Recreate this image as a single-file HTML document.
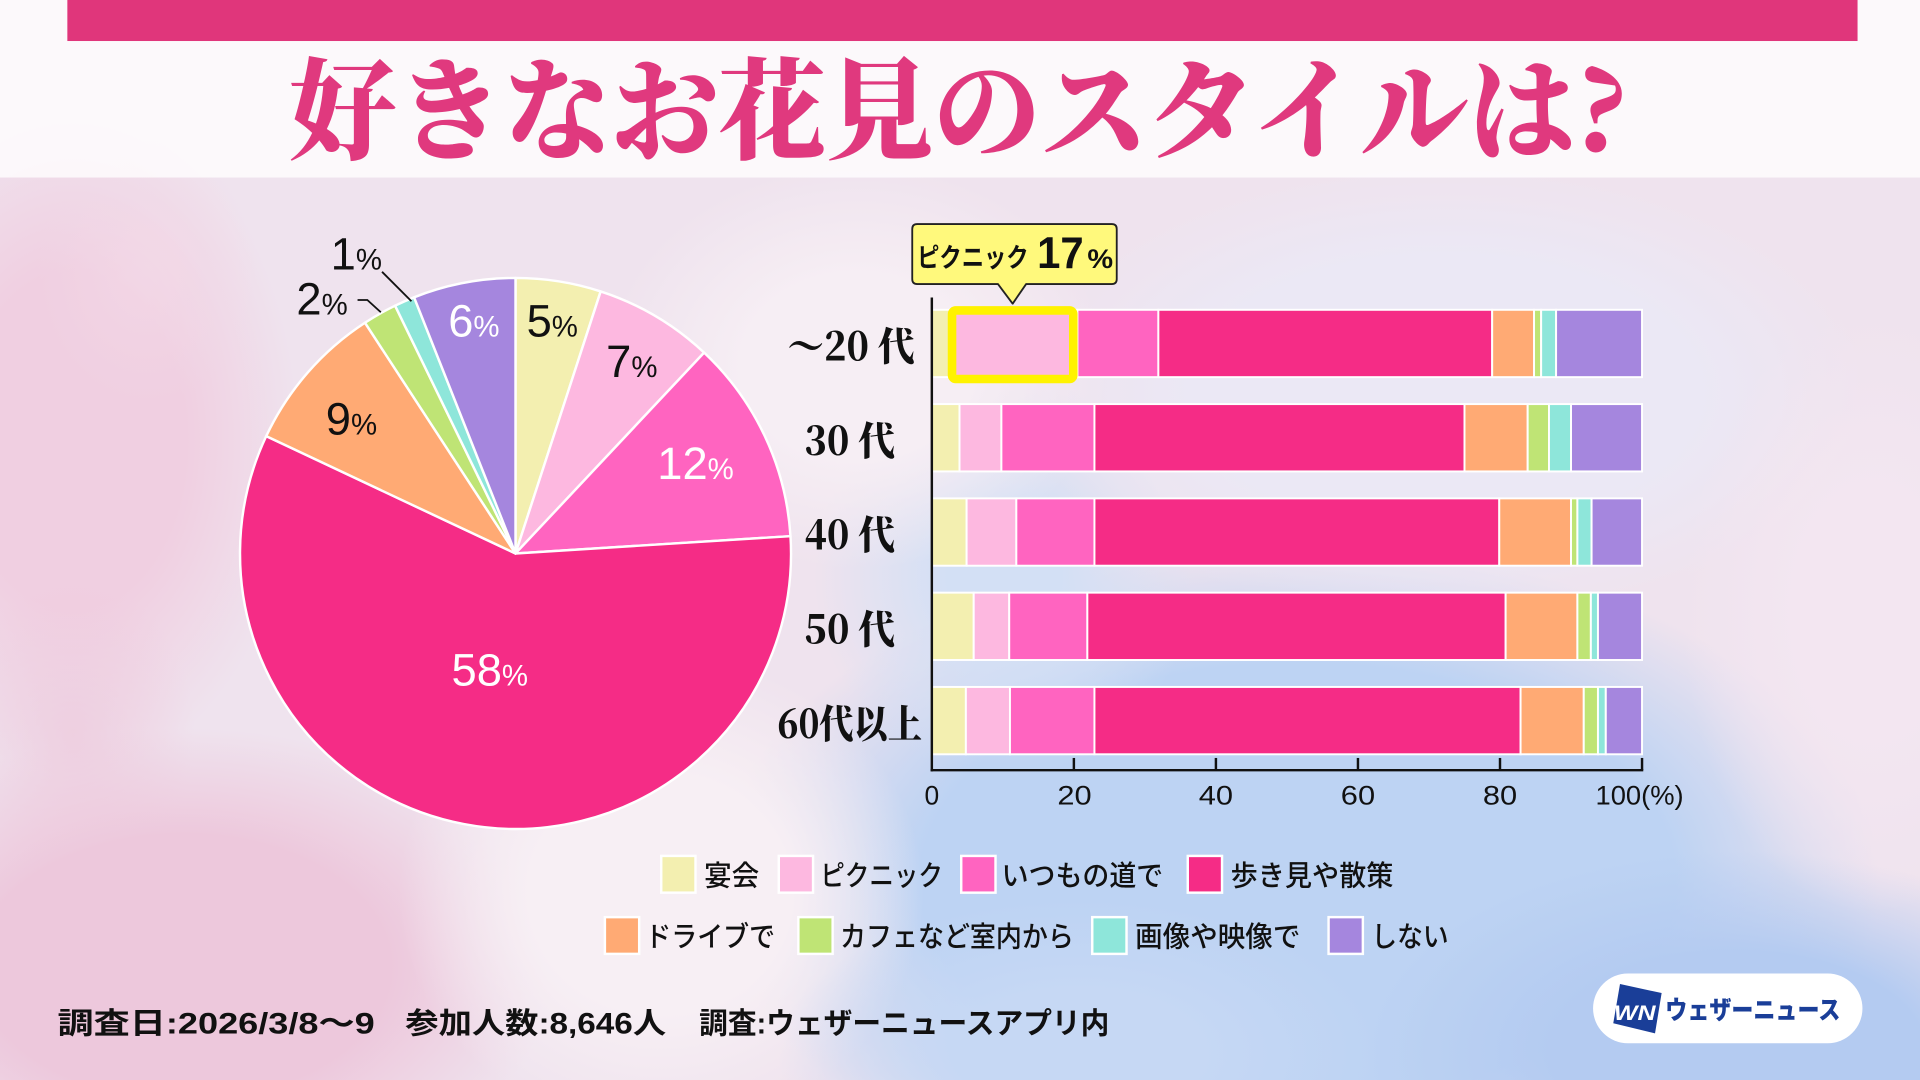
<!DOCTYPE html>
<html>
<head>
<meta charset="utf-8">
<style>
html,body{margin:0;padding:0;width:1920px;height:1080px;overflow:hidden;background:#efe3ee;}
#wrap{position:absolute;left:0;top:0;width:1920px;height:1080px;overflow:hidden;
background:
radial-gradient(ellipse 122px 159px at 73px 735px, rgba(238,201,220,.7) 0%, rgba(238,201,220,0) 100%),
radial-gradient(ellipse 110px 135px at 147px 269px, rgba(243,217,231,.7) 0%, rgba(243,217,231,0) 100%),
radial-gradient(ellipse 300px 153px at 1078px 1053px, #c6d8f4 40%, rgba(198,216,244,0) 100%),
radial-gradient(ellipse 190px 300px at 1873px 612px, #f3e6f1 40%, rgba(243,230,241,0) 100%),
radial-gradient(ellipse 251px 202px at 857px 367px, #f6eef4 45%, rgba(246,238,244,0) 100%),
radial-gradient(ellipse 263px 239px at 661px 894px, #f7eff4 50%, rgba(247,239,244,0) 100%),
radial-gradient(ellipse 373px 239px at 184px 967px, #edc8dc 55%, rgba(237,200,220,0) 100%),
radial-gradient(ellipse 226px 337px at 73px 441px, #f0cfe1 50%, rgba(240,207,225,0) 100%),
radial-gradient(ellipse 422px 226px at 1445px 392px, #ebe8f5 60%, rgba(235,232,245,0) 100%),
radial-gradient(ellipse 190px 202px at 1004px 576px, #d3e0f5 30%, rgba(211,224,245,0) 100%),
radial-gradient(ellipse 373px 202px at 1739px 1053px, #b4cbf1 50%, rgba(180,203,241,0) 100%),
radial-gradient(ellipse 582px 337px at 1298px 882px, #bdd3f3 65%, rgba(189,211,243,0) 100%),
#efe3ee;}
svg{display:block;overflow:hidden;}
</style>
</head>
<body>
<div id="wrap">
<svg width="1920" height="1080" viewBox="0 0 1568 882" xmlns="http://www.w3.org/2000/svg">

  <!-- Title band -->
  <rect x="0" y="0" width="1568" height="145" fill="#ffffff" opacity="0.78"/>
  <rect x="55" y="0" width="1462" height="33.5" fill="#e0367b"/>
  <text x="236" y="123" font-family="'Noto Serif CJK SC','Noto Serif CJK JP',serif" font-weight="900" font-size="90" fill="#e0397e" textLength="1094" lengthAdjust="spacingAndGlyphs">好きなお花見のスタイルは?</text>

  <!-- Pie -->
  <g stroke="#ffffff" stroke-width="2" stroke-linejoin="round">
    <path d="M421 452 L421 227 A225 225 0 0 1 490.53 238.01 Z" fill="#f3efb0"/>
    <path d="M421 452 L490.53 238.01 A225 225 0 0 1 575.02 287.98 Z" fill="#fdb8e0"/>
    <path d="M421 452 L575.02 287.98 A225 225 0 0 1 645.56 437.87 Z" fill="#ff64c0"/>
    <path d="M421 452 L645.56 437.87 A225 225 0 1 1 217.41 356.20 Z" fill="#f52c86"/>
    <path d="M421 452 L217.41 356.20 A225 225 0 0 1 298.05 263.56 Z" fill="#ffaa74"/>
    <path d="M421 452 L298.05 263.56 A225 225 0 0 1 322.65 249.63 Z" fill="#bfe475"/>
    <path d="M421 452 L322.65 249.63 A225 225 0 0 1 338.17 242.80 Z" fill="#8ee6da"/>
    <path d="M421 452 L338.17 242.80 A225 225 0 0 1 421 227 Z" fill="#a586de"/>
  </g>

  <!-- Pie labels -->
  <g font-family="'Liberation Sans',sans-serif" text-anchor="middle">
    <text x="451" y="275" font-size="37" fill="#111">5<tspan font-size="24">%</tspan></text>
    <text x="387" y="275" font-size="37" fill="#fff">6<tspan font-size="24">%</tspan></text>
    <text x="516" y="308" font-size="37" fill="#111">7<tspan font-size="24">%</tspan></text>
    <text x="568" y="391" font-size="37" fill="#fff">12<tspan font-size="24">%</tspan></text>
    <text x="400" y="560" font-size="37" fill="#fff">58<tspan font-size="24">%</tspan></text>
    <text x="287" y="355" font-size="37" fill="#111">9<tspan font-size="24">%</tspan></text>
    <text x="263" y="257" font-size="37" fill="#111">2<tspan font-size="24">%</tspan></text>
    <text x="291" y="220" font-size="37" fill="#111">1<tspan font-size="24">%</tspan></text>
  </g>
  <polyline points="312,222 336,246" fill="none" stroke="#111" stroke-width="1.5"/>
  <polyline points="292,245 300,245 311,255" fill="none" stroke="#111" stroke-width="1.5"/>

  <!-- Bars -->
  <g stroke="#ffffff" stroke-width="1.6">
    <!-- row 1 -->
    <rect x="761" y="253" width="20.3" height="55" fill="#f3efb0"/>
    <rect x="781.3" y="253" width="98.6" height="55" fill="#fdb8e0"/>
    <rect x="879.9" y="253" width="66.1" height="55" fill="#ff64c0"/>
    <rect x="946" y="253" width="272.6" height="55" fill="#f52c86"/>
    <rect x="1218.6" y="253" width="34.2" height="55" fill="#ffaa74"/>
    <rect x="1252.8" y="253" width="5.8" height="55" fill="#bfe475"/>
    <rect x="1258.6" y="253" width="12.2" height="55" fill="#8ee6da"/>
    <rect x="1270.8" y="253" width="70.2" height="55" fill="#a586de"/>
    <!-- row 2 -->
    <rect x="761" y="330" width="22.6" height="55" fill="#f3efb0"/>
    <rect x="783.6" y="330" width="34.2" height="55" fill="#fdb8e0"/>
    <rect x="817.8" y="330" width="76" height="55" fill="#ff64c0"/>
    <rect x="893.8" y="330" width="302.2" height="55" fill="#f52c86"/>
    <rect x="1196" y="330" width="51.6" height="55" fill="#ffaa74"/>
    <rect x="1247.6" y="330" width="17.4" height="55" fill="#bfe475"/>
    <rect x="1265" y="330" width="18" height="55" fill="#8ee6da"/>
    <rect x="1283" y="330" width="58" height="55" fill="#a586de"/>
    <!-- row 3 -->
    <rect x="761" y="407" width="28.4" height="55" fill="#f3efb0"/>
    <rect x="789.4" y="407" width="40.6" height="55" fill="#fdb8e0"/>
    <rect x="830" y="407" width="63.8" height="55" fill="#ff64c0"/>
    <rect x="893.8" y="407" width="330.6" height="55" fill="#f52c86"/>
    <rect x="1224.4" y="407" width="58.6" height="55" fill="#ffaa74"/>
    <rect x="1283" y="407" width="5.2" height="55" fill="#bfe475"/>
    <rect x="1288.2" y="407" width="11.6" height="55" fill="#8ee6da"/>
    <rect x="1299.8" y="407" width="41.2" height="55" fill="#a586de"/>
    <!-- row 4 -->
    <rect x="761" y="484" width="34.2" height="55" fill="#f3efb0"/>
    <rect x="795.2" y="484" width="29" height="55" fill="#fdb8e0"/>
    <rect x="824.2" y="484" width="63.8" height="55" fill="#ff64c0"/>
    <rect x="888" y="484" width="341.6" height="55" fill="#f52c86"/>
    <rect x="1229.6" y="484" width="58.6" height="55" fill="#ffaa74"/>
    <rect x="1288.2" y="484" width="11" height="55" fill="#bfe475"/>
    <rect x="1299.2" y="484" width="5.8" height="55" fill="#8ee6da"/>
    <rect x="1305" y="484" width="36" height="55" fill="#a586de"/>
    <!-- row 5 -->
    <rect x="761" y="561" width="27.8" height="55" fill="#f3efb0"/>
    <rect x="788.8" y="561" width="36" height="55" fill="#fdb8e0"/>
    <rect x="824.8" y="561" width="69" height="55" fill="#ff64c0"/>
    <rect x="893.8" y="561" width="348" height="55" fill="#f52c86"/>
    <rect x="1241.8" y="561" width="51.6" height="55" fill="#ffaa74"/>
    <rect x="1293.4" y="561" width="11.6" height="55" fill="#bfe475"/>
    <rect x="1305" y="561" width="6.4" height="55" fill="#8ee6da"/>
    <rect x="1311.4" y="561" width="29.6" height="55" fill="#a586de"/>
  </g>

  <!-- Highlight -->
  <rect x="777.5" y="253.5" width="99" height="56" rx="3" fill="#fdb8e0" stroke="#fff200" stroke-width="7"/>

  <!-- Axes -->
  <g stroke="#111" stroke-width="2" fill="none">
    <line x1="761" y1="243" x2="761" y2="630"/>
    <line x1="760" y1="629" x2="1342" y2="629"/>
    <line x1="877" y1="619" x2="877" y2="629"/>
    <line x1="993" y1="619" x2="993" y2="629"/>
    <line x1="1109" y1="619" x2="1109" y2="629"/>
    <line x1="1225" y1="619" x2="1225" y2="629"/>
    <line x1="1341" y1="619" x2="1341" y2="629"/>
  </g>
  <g font-family="'Liberation Sans',sans-serif" font-size="22" fill="#111">
    <text x="755" y="657" textLength="12" lengthAdjust="spacingAndGlyphs">0</text>
    <text x="863.5" y="657" textLength="28" lengthAdjust="spacingAndGlyphs">20</text>
    <text x="979" y="657" textLength="28" lengthAdjust="spacingAndGlyphs">40</text>
    <text x="1095" y="657" textLength="28" lengthAdjust="spacingAndGlyphs">60</text>
    <text x="1211" y="657" textLength="28" lengthAdjust="spacingAndGlyphs">80</text>
    <text x="1303" y="657" textLength="72" lengthAdjust="spacingAndGlyphs">100(%)</text>
  </g>

  <!-- Row labels -->
  <g font-family="'Noto Serif CJK SC','Noto Serif CJK JP',serif" font-weight="900" font-size="32" fill="#111">
    <text x="643" y="294.5" textLength="104" lengthAdjust="spacingAndGlyphs">〜20 代</text>
    <text x="657" y="371.5" textLength="74" lengthAdjust="spacingAndGlyphs">30 代</text>
    <text x="657" y="448.5" textLength="74" lengthAdjust="spacingAndGlyphs">40 代</text>
    <text x="657" y="525.5" textLength="74" lengthAdjust="spacingAndGlyphs">50 代</text>
    <text x="635" y="602.5" textLength="118" lengthAdjust="spacingAndGlyphs">60代以上</text>
  </g>

  <!-- Callout -->
  <path d="M749 183 H908 Q912 183 912 187 V228 Q912 232 908 232 H838 L827 248 L815 232 H749 Q745 232 745 228 V187 Q745 183 749 183 Z" fill="#fff97c" stroke="#222" stroke-width="1.5" stroke-linejoin="round"/>
  <g font-family="'Liberation Sans','Noto Sans CJK JP',sans-serif" font-weight="700" fill="#111">
    <text x="749" y="218" font-size="22" textLength="91" lengthAdjust="spacingAndGlyphs">ピクニック</text>
    <text x="847" y="219" font-size="36" textLength="38" lengthAdjust="spacingAndGlyphs">17</text>
    <text x="888" y="219" font-size="22" textLength="21" lengthAdjust="spacingAndGlyphs">%</text>
  </g>

  <!-- Legend -->
  <g stroke="#ffffff" stroke-width="2">
    <rect x="540" y="699" width="28" height="30" fill="#f3efb0"/>
    <rect x="636" y="699" width="28" height="30" fill="#fdb8e0"/>
    <rect x="785" y="699" width="28" height="30" fill="#ff64c0"/>
    <rect x="970" y="699" width="28" height="30" fill="#f52c86"/>
    <rect x="494" y="749" width="28" height="30" fill="#ffaa74"/>
    <rect x="652" y="749" width="28" height="30" fill="#bfe475"/>
    <rect x="892" y="749" width="28" height="30" fill="#8ee6da"/>
    <rect x="1085" y="749" width="28" height="30" fill="#a586de"/>
  </g>
  <g font-family="'Liberation Sans','Noto Sans CJK JP',sans-serif" font-weight="500" font-size="23" fill="#111">
    <text x="575" y="723" textLength="45" lengthAdjust="spacingAndGlyphs">宴会</text>
    <text x="670" y="723" textLength="100" lengthAdjust="spacingAndGlyphs">ピクニック</text>
    <text x="818" y="723" textLength="132" lengthAdjust="spacingAndGlyphs">いつもの道で</text>
    <text x="1005" y="723" textLength="133" lengthAdjust="spacingAndGlyphs">歩き見や散策</text>
    <text x="527" y="773" textLength="106" lengthAdjust="spacingAndGlyphs">ドライブで</text>
    <text x="686" y="773" textLength="191" lengthAdjust="spacingAndGlyphs">カフェなど室内から</text>
    <text x="927" y="773" textLength="135" lengthAdjust="spacingAndGlyphs">画像や映像で</text>
    <text x="1120" y="773" textLength="63" lengthAdjust="spacingAndGlyphs">しない</text>
  </g>

  <!-- Footer -->
  <g font-family="'Liberation Sans','Noto Sans CJK JP',sans-serif" font-weight="700" font-size="24" fill="#111">
    <text x="47" y="844" textLength="259" lengthAdjust="spacingAndGlyphs">調査日:2026/3/8〜9</text>
    <text x="331" y="844" textLength="213" lengthAdjust="spacingAndGlyphs">参加人数:8,646人</text>
    <text x="571" y="844" textLength="335" lengthAdjust="spacingAndGlyphs">調査:ウェザーニュースアプリ内</text>
  </g>

  <!-- Logo -->
  <rect x="1301" y="795" width="220" height="57" rx="28.5" fill="#ffffff"/>
  <polygon points="1323,803.6 1357,811 1351.6,843.9 1317.5,835.7" fill="#1a3e98"/>
  <text x="1318" y="833" font-family="'Liberation Sans',sans-serif" font-weight="700" font-style="italic" font-size="17" fill="#ffffff" textLength="34" lengthAdjust="spacingAndGlyphs">WN</text>
  <text x="1360" y="832" font-family="'Liberation Sans','Noto Sans CJK JP',sans-serif" font-weight="900" font-size="21" fill="#1a3e98" textLength="143" lengthAdjust="spacingAndGlyphs">ウェザーニュース</text>
</svg>
</div>
</body>
</html>
